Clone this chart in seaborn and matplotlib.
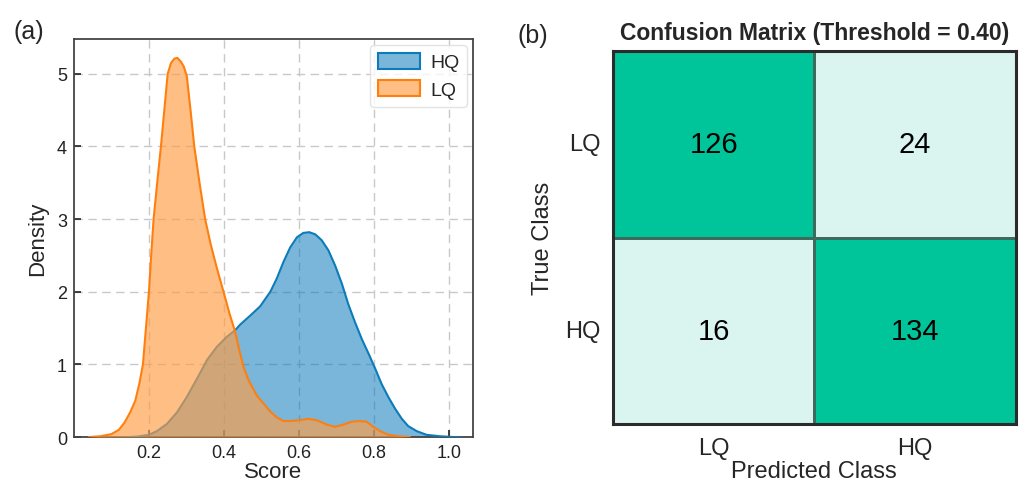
import numpy as np
import pandas as pd
import matplotlib
matplotlib.use("Agg")
import matplotlib.pyplot as plt
from matplotlib.patches import Patch
from matplotlib.colors import ListedColormap, to_rgba
import seaborn as sns

# ---------------- data ----------------
hq_x = [0.15, 0.17, 0.20, 0.221, 0.248, 0.275, 0.301, 0.328, 0.355, 0.381, 0.408, 0.430,
        0.444, 0.470, 0.497, 0.524, 0.541, 0.559, 0.577, 0.595, 0.612, 0.628, 0.644, 0.661,
        0.679, 0.697, 0.715, 0.732, 0.750, 0.768, 0.786, 0.804, 0.821, 0.839, 0.857, 0.875,
        0.892, 0.915, 0.941, 0.977, 1.012, 1.03]
hq_y = [0.0, 0.006, 0.03, 0.08, 0.18, 0.34, 0.55, 0.80, 1.06, 1.24, 1.38, 1.47,
        1.55, 1.67, 1.80, 2.0, 2.18, 2.41, 2.61, 2.75, 2.81, 2.82, 2.79, 2.71,
        2.57, 2.36, 2.11, 1.83, 1.58, 1.35, 1.15, 0.94, 0.73, 0.55, 0.39, 0.25,
        0.15, 0.08, 0.03, 0.01, 0.0, 0.0]

lq_x = [0.04, 0.07, 0.10, 0.12, 0.135, 0.150, 0.1636, 0.175, 0.184, 0.192, 0.200, 0.206,
        0.2124, 0.222, 0.232, 0.241, 0.250, 0.259, 0.268, 0.276, 0.285, 0.293, 0.301, 0.311,
        0.321, 0.335, 0.350, 0.365, 0.380, 0.399, 0.415, 0.430, 0.440, 0.452, 0.466, 0.488,
        0.506, 0.524, 0.541, 0.559, 0.577, 0.600, 0.626, 0.648, 0.675, 0.697, 0.719, 0.741,
        0.764, 0.781, 0.799, 0.817, 0.839, 0.866, 0.897]
lq_y = [0.0, 0.01, 0.04, 0.10, 0.20, 0.34, 0.5, 0.75, 1.0, 1.5, 2.0, 2.5,
        3.0, 3.5, 4.0, 4.5, 5.0, 5.15, 5.21, 5.22, 5.17, 5.10, 4.97, 4.5,
        4.0, 3.5, 3.0, 2.65, 2.35, 2.0, 1.7, 1.45, 1.22, 0.97, 0.78, 0.57,
        0.46, 0.35, 0.27, 0.22, 0.22, 0.23, 0.25, 0.23, 0.17, 0.14, 0.17, 0.21,
        0.22, 0.21, 0.14, 0.08, 0.03, 0.01, 0.0]

x_ticks = [0.2, 0.4, 0.6, 0.8, 1.0]
y_ticks = [0, 1, 2, 3, 4, 5]

classes = ["LQ", "HQ"]
conf = [[126, 24],
        [16, 134]]

# ---------------- style ----------------
sns.set_theme(style="ticks")
plt.rcParams["font.family"] = ["Liberation Sans", "DejaVu Sans"]

fig = plt.figure(figsize=(10.25, 4.85), dpi=100)
ax1 = fig.add_axes([0.0722, 0.0969, 0.3893, 0.8206])
ax2 = fig.add_axes([0.598, 0.1237, 0.393, 0.769])

hq_line = "#0C7BBA"
hq_fill = to_rgba("#0C7BBA", 0.55)
lq_line = "#FF7F0E"
lq_fill = to_rgba("#FE9D45", 0.66)

# ---- panel (a): density curves ----
ax1.fill_between(hq_x, hq_y, 0, color=hq_fill, lw=0, zorder=2)
sns.lineplot(x=hq_x, y=hq_y, color=hq_line, lw=1.5, ax=ax1, zorder=3, sort=False)
ax1.fill_between(lq_x, lq_y, 0, color=lq_fill, lw=0, zorder=4)
sns.lineplot(x=lq_x, y=lq_y, color=lq_line, lw=1.5, ax=ax1, zorder=5, sort=False)

ax1.set_xlim(0.0, 1.065)
ax1.set_ylim(0, 5.48)
ax1.set_xticks(x_ticks)
ax1.set_xticklabels([f"{t:.1f}" for t in x_ticks])
ax1.set_yticks(y_ticks)
ax1.set_xlabel("Score", fontsize=16, labelpad=0)
ax1.set_ylabel("Density", fontsize=16, labelpad=6)
ax1.tick_params(direction="in", length=5, width=1.2, colors="#222222", labelsize=13, pad=5)
ax1.grid(True, color="#c8c8c8", linestyle=(0, (6, 4)), linewidth=1.0, zorder=0)
ax1.set_axisbelow(True)
for sp in ax1.spines.values():
    sp.set_visible(True)
    sp.set_color("#444444")
    sp.set_linewidth(1.3)

handles = [Patch(facecolor=hq_fill, edgecolor=hq_line, lw=1.5, label="HQ"),
           Patch(facecolor=lq_fill, edgecolor=lq_line, lw=1.5, label="LQ")]
leg = ax1.legend(handles=handles, loc="upper right", fontsize=14, frameon=True, fancybox=True,
                 borderaxespad=0.3, handlelength=2.2, handleheight=0.9, handletextpad=0.5,
                 labelspacing=0.45, borderpad=0.4)
leg.get_frame().set_edgecolor("#dddddd")
leg.get_frame().set_linewidth(1.0)

# ---- panel (b): confusion matrix ----
df = pd.DataFrame(conf, index=classes, columns=classes)
cmap = ListedColormap(["#DAF4EF", "#00C49A"])
sns.heatmap(df, ax=ax2, cmap=cmap, vmin=16, vmax=134, annot=True, fmt="d", cbar=False,
            linewidths=0.8, linecolor="#3f6b5f", square=False,
            annot_kws={"fontsize": 21, "color": "black"})
ax2.set_title("Confusion Matrix (Threshold = 0.40)", fontsize=16.5, fontweight="bold", pad=9)
ax2.set_xlabel("Predicted Class", fontsize=17, labelpad=1)
ax2.set_ylabel("True Class", fontsize=17, labelpad=8)
ax2.tick_params(length=0, labelsize=17, pad=9)
ax2.set_yticklabels(classes, rotation=0)
ax2.set_xticklabels(classes, rotation=0)
for sp in ax2.spines.values():
    sp.set_visible(True)
    sp.set_color("#2b2b2b")
    sp.set_linewidth(2.2)

fig.text(0.013, 0.935, "(a)", fontsize=18, va="center", ha="left")
fig.text(0.505, 0.925, "(b)", fontsize=18, va="center", ha="left")

fig.savefig("out.png", dpi=100)
